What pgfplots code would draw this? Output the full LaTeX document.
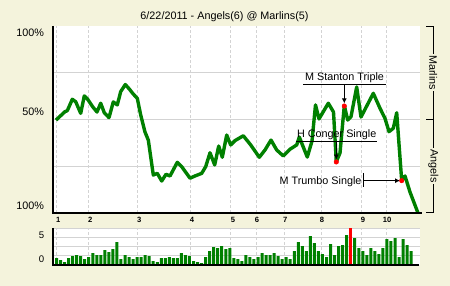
\documentclass[border=0pt]{standalone}
\usepackage{pgfplots}
\pgfplotsset{compat=1.18}
\usetikzlibrary{arrows.meta}
\usepackage{fontspec}
\setmainfont{Liberation Sans}
\definecolor{bg}{HTML}{F4F3DC}
\definecolor{gwin}{HTML}{008000}
\definecolor{gridc}{HTML}{D3D3D3}
\newcommand\fa{\fontsize{10.8bp}{12bp}\selectfont}
\newcommand\fb{\fontsize{7.6bp}{9bp}\selectfont\bfseries}
\newcommand\fc{\fontsize{9.6bp}{11bp}\selectfont}

\pgfplotstableread{
x y
56 49.7
65 54.2
67.3 54.7
72.3 60.8
75.7 59.5
80.7 53.3
84.3 62.6
87.7 60.8
92.7 56.8
97 54.0
100.7 58.7
104.3 53.6
109 51.0
113.3 59.4
117.3 57.8
120.7 64.9
125.3 68.7
129.3 66.3
133.3 63.6
137.3 61.3
140.7 52.4
145 43.3
148.3 39.0
153.3 20.3
157.3 21.2
161.7 17.1
166 20.7
170 19.8
177.3 27.1
181.7 24.8
190 18.6
195 19.8
201.7 21.2
205.7 24.8
210 32.2
214.7 25.7
218.7 35.8
222.3 29.8
226.7 41.7
230.7 36.4
235 38.7
243.3 41.3
250.7 36.4
259.3 29.8
265 33.7
271 39.0
276.7 33.7
283.3 30.5
290 34.1
296.7 36.4
299.3 40.6
307.3 29.9
312 38.5
315.5 57.8
319 50.3
328.3 58.7
333.5 54.0
336.3 27.4
340 32.1
344.3 57.5
347.7 49.7
351 51.5
356.7 67.4
361 51.3
373.3 64.0
380 56.0
385 50.6
389 43.5
393.3 45.3
396.7 53.6
401.7 17.3
405 19.8
410 11.2
418 0
}\wpdata

\pgfplotstableread{
x h
56.5 7
60.53 5
64.56 3
68.59 7
72.62 9
76.65 10
80.68 9
84.71 6
88.74 8
92.77 12
96.8 10
100.83 10
104.86 15
108.89 13
112.92 16
116.95 23
120.98 6
125.01 10
129.04 8
133.07 6
137.1 8
141.13 8
145.16 10
149.19 9
153.22 4
157.25 3
161.28 7
165.31 7
169.34 8
173.37 7
177.4 7
181.43 12
185.46 10
189.49 9
193.52 4
197.55 3
201.58 2
205.61 8
209.64 14
213.67 18
217.7 17
221.73 19
225.76 16
229.79 17
233.82 7
237.85 6
241.88 4
245.91 10
249.94 8
253.97 6
258.0 8
262.03 12
266.06 10
270.09 10
274.12 12
278.15 9
282.18 6
286.21 8
290.24 6
294.27 14
298.3 23
302.33 19
306.36 14
310.39 29
314.42 22
318.45 14
322.48 11
326.51 8
330.54 21
334.57 10
338.6 19
342.63 20
346.66 30
354.72 27
358.75 17
362.78 14
366.81 10
370.84 17
374.87 14
378.9 11
382.93 17
386.96 26
390.99 24
395.02 27
399.05 8
403.08 26
407.11 20
411.14 14
}\lidata

\begin{document}
\begin{tikzpicture}
\fill[bg] (0,0) rectangle (450bp,286bp);
\useasboundingbox (0,0) rectangle (450bp,286bp);

\begin{axis}[
  at={(53bp,73bp)}, anchor=south west,
  scale only axis, width=367bp, height=187bp,
  xmin=53, xmax=420, ymin=0, ymax=100,
  axis background/.style={fill=white},
  axis line style={draw=none},
  tick style={draw=none},
  xtick={56,88,137,190,230,256,284,321,361,386},
  xticklabels={},
  ytick={25,50,75}, yticklabels={},
  xmajorgrids, ymajorgrids,
  x grid style={gridc, dash pattern=on 3bp off 2bp, line width=0.9bp},
  y grid style={gridc, line width=0.9bp},
]
\addplot[gwin, line width=3.4bp, line join=round, mark=none] table[x=x,y=y] {\wpdata};
% annotations
\node[anchor=base, inner sep=0pt, font=\fa] at (axis cs:344.5,70.6) {M Stanton Triple};
\draw[black, line width=0.9bp] (axis cs:303,68.8) -- (axis cs:386,68.8);
\draw[black, line width=0.9bp, -{Latex[length=5bp,width=5bp]}] (axis cs:344.3,68.8) -- (axis cs:344.3,58.6);
\node[anchor=base, inner sep=0pt, font=\fa] at (axis cs:336.7,40.3) {H Conger Single};
\draw[black, line width=0.9bp] (axis cs:296,38.2) -- (axis cs:377,38.2);
\draw[black, line width=0.9bp, -{Latex[length=5bp,width=5bp]}] (axis cs:336.3,38.2) -- (axis cs:336.3,28.6);
\node[anchor=base east, inner sep=0pt, font=\fa] at (axis cs:361.7,15.1) {M Trumbo Single};
\draw[black, line width=0.9bp] (axis cs:363.3,21.4) -- (axis cs:363.3,13.7);
\draw[black, line width=0.9bp, -{Latex[length=5bp,width=5bp]}] (axis cs:363.3,17.3) -- (axis cs:400,17.3);
\addplot[only marks, mark=*, mark size=2.3bp, red, mark options={draw=red, fill=red}] coordinates {(344.3,57.2) (336.3,27.3) (401.7,17.3)};
\end{axis}

\begin{axis}[
  at={(53bp,21bp)}, anchor=south west,
  scale only axis, width=367bp, height=36.5bp,
  xmin=53, xmax=420, ymin=0, ymax=36.5,
  axis background/.style={fill=white},
  axis line style={draw=none},
  tick style={draw=none},
  xtick={56,88,137,190,230,256,284,321,361,386},
  xticklabels={},
  ytick={9.1,18.2,27.3,36.5}, yticklabels={},
  xmajorgrids, ymajorgrids,
  x grid style={gridc, dash pattern=on 3bp off 2bp, line width=0.9bp},
  y grid style={gridc, line width=0.9bp},
]
\addplot[ybar, bar width=3bp, bar shift=0pt, fill=gwin, draw=none] table[x=x,y=h] {\lidata};
\addplot[ybar, bar width=3bp, bar shift=0pt, fill=red, draw=none] coordinates {(350.69,37)};
\end{axis}

% axis lines
\draw[black, line width=1.6bp] (53bp,260bp) -- (53bp,73bp) -- (422bp,73bp);
\draw[black, line width=1.6bp] (53bp,58bp) -- (53bp,21bp) -- (419bp,21bp);

% title
\node[anchor=base, inner sep=0pt, font=\fa] at (224.5bp,266bp) {6/22/2011 - Angels(6) @ Marlins(5)};

% y labels
\node[anchor=base east, inner sep=0pt, font=\fa] at (44.3bp,249bp) {100\%};
\node[anchor=base east, inner sep=0pt, font=\fa] at (44.3bp,170bp) {50\%};
\node[anchor=base east, inner sep=0pt, font=\fa] at (44.3bp,76.3bp) {100\%};
\node[anchor=base east, inner sep=0pt, font=\fc] at (44.3bp,47bp) {5};
\node[anchor=base east, inner sep=0pt, font=\fc] at (44.3bp,24bp) {0};

% inning labels
\foreach \xx/\lab in {58.3/1,90.2/2,139.2/3,192/4,233/5,257/6,285.3/7,322/8,363/9,387.2/10}
  \node[anchor=base, inner sep=0pt, font=\fb] at (\xx bp,63bp) {\lab};

% right bracket
\draw[black, line width=0.9bp] (426bp,260bp) -- (433.3bp,260bp) -- (433.3bp,73.5bp) -- (426bp,73.5bp);
\draw[black, line width=0.9bp] (426bp,167bp) -- (433.3bp,167bp);
\node[rotate=-90, fill=bg, inner sep=1pt, font=\fa] at (433.3bp,213.5bp) {Marlins};
\node[rotate=-90, fill=bg, inner sep=1pt, font=\fa] at (433.3bp,120bp) {Angels};
\end{tikzpicture}
\end{document}
